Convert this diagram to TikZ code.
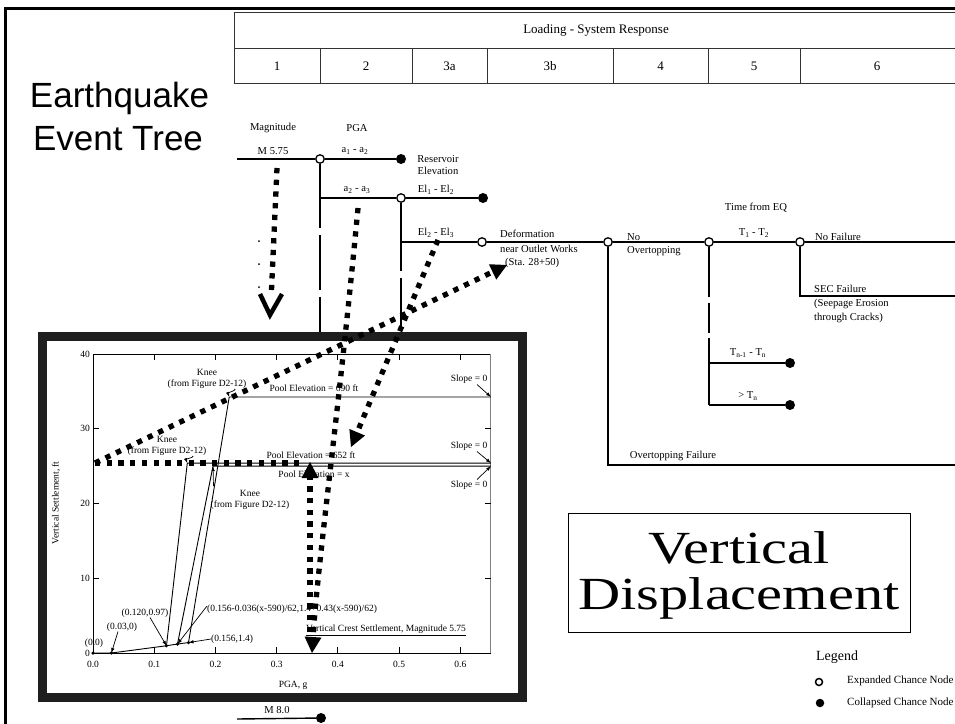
\documentclass[tikz,border=0pt]{standalone}
\usepackage{fontspec}
\setmainfont{Liberation Serif}
\newfontfamily\sansbig{Liberation Sans}
\usetikzlibrary{arrows.meta,calc}
\begin{document}
\begin{tikzpicture}[x=1pt,y=-1pt,
  treeline/.style={line width=1.4pt},
  onode/.style={circle,draw=black,fill=white,line width=1.3pt,inner sep=0pt,minimum size=8.5pt},
  fnode/.style={circle,fill=black,inner sep=0pt,minimum size=10pt},
  lab/.style={font=\fontsize{10.6}{12}\selectfont,inner sep=0pt},
  hlab/.style={font=\fontsize{13}{15}\selectfont,inner sep=0pt},
  plab/.style={font=\fontsize{9.5}{11.5}\selectfont,inner sep=0pt},
  hdr/.style={line width=1pt,draw=black!80},
  dotline/.style={line width=5.3pt,dash pattern=on 5.3pt off 6.4pt},
  bigtri/.style={-{Triangle[length=16pt,width=17pt,line width=0pt]}},
  smallarr/.style={line width=0.7pt,-{Latex[length=5pt,width=3.5pt]}},
  pline/.style={line width=0.9pt},
  pdot/.style={circle,fill=black,inner sep=0pt,minimum size=3.5pt}
]
\useasboundingbox (0,0) rectangle (955,723);
\fill[white] (0,0) rectangle (955,723);
% outer frame
\draw[line width=3pt] (5.5,724) -- (5.5,8.5) -- (958,8.5);

% header table
\draw[hdr] (234,12) rectangle (962,83);
\draw[hdr] (234,48) -- (962,48);
\foreach \xx in {320,412,487,613,708,800} {\draw[hdr] (\xx,48) -- (\xx,83);}
\node[hlab] (hload) at (596,30) {Loading - System Response};
\node[hlab] (h1) at (277,66) {1};
\node[hlab] (h2) at (366,66) {2};
\node[hlab] (h3a) at (449.5,66) {3a};
\node[hlab] (h3b) at (550,66) {3b};
\node[hlab] (h4) at (660.5,66) {4};
\node[hlab] (h5) at (754,66) {5};
\node[hlab] (h6) at (877,66) {6};

% title
\node[font=\sansbig\fontsize{35}{40}\selectfont,inner sep=0pt,anchor=base] (t1) at (119.5,107) {Earthquake};
\node[font=\sansbig\fontsize{35}{40}\selectfont,inner sep=0pt,anchor=base] (t2) at (118,150) {Event Tree};

% tree nodes
\node[onode] (c1) at (320,159) {};
\node[fnode] (d1) at (401,159) {};
\node[onode] (c2) at (401,198) {};
\node[fnode] (d2) at (483,198) {};
\node[onode] (c3) at (482,242) {};
\node[onode] (c4) at (608,242) {};
\node[onode] (c5) at (709,242) {};
\node[onode] (c6) at (800,242) {};
\node[fnode] (d3) at (960,242) {};
\node[fnode] (d4) at (960,296) {};
\node[fnode] (d5) at (790,363) {};
\node[fnode] (d6) at (790,405) {};
\node[fnode] (d7) at (960,465) {};
\node[fnode] (dm8) at (321,718) {};
\coordinate (m575) at (237,159);
\coordinate (m8s) at (237,719);
\coordinate (v1e) at (320,332);
\coordinate (b2) at (320,198);
\coordinate (v2e) at (401,330);
\coordinate (b3) at (401,242);
\coordinate (v5e) at (709,405);
\coordinate (b5a) at (709,363);

\draw[treeline] (m575) -- (c1);
\draw[treeline] (c1) -- (d1);
\draw[treeline,dash pattern=on 64pt off 7pt on 55pt off 7pt on 100pt] (c1.south) -- (v1e);
\draw[treeline] (b2) -- (c2);
\draw[treeline] (c2) -- (d2);
\draw[treeline,dash pattern=on 68pt off 7pt on 100pt] (c2.south) -- (v2e);
\draw[treeline] (b3) -- (c3);
\draw[treeline] (c3) -- (c4);
\draw[treeline] (c4) -- (c5);
\draw[treeline] (c4) |- (d7);
\draw[treeline] (c5) -- (c6);
\draw[treeline,dash pattern=on 50pt off 6pt on 30pt off 5pt on 100pt] (c5.south) -- (v5e);
\draw[treeline] (b5a) -- (d5);
\draw[treeline] (v5e) -- (d6);
\draw[treeline] (c6) -- (d3);
\draw[treeline] (c6) |- (d4);
\draw[treeline] (m8s) -- (dm8);

% tree labels
\node[lab] (lmag) at (273,128) {Magnitude};
\node[lab] (lpga) at (357,128) {PGA};
\node[lab] (lm575) at (273,151) {M 5.75};
\node[lab] (la12) at (355,151) {a\textsubscript{1} - a\textsubscript{2}};
\node[lab,align=center] (lres) at (438,165.5) {Reservoir\\Elevation};
\node[lab] (la23) at (357,190) {a\textsubscript{2} - a\textsubscript{3}};
\node[lab] (lel12) at (436,190) {El\textsubscript{1} - El\textsubscript{2}};
\node[lab] (lel23) at (436,233) {El\textsubscript{2} - El\textsubscript{3}};
\node[lab,anchor=west] (ldef1) at (500,234) {Deformation};
\node[lab,anchor=west] (ldef2) at (500,249) {near Outlet Works};
\node[lab,anchor=west] (ldef3) at (505,263) {(Sta. 28+50)};
\node[lab,anchor=west] (lno) at (627,237) {No};
\node[lab,anchor=west] (lovt) at (627,251) {Overtopping};
\node[lab] (ltime) at (756,208) {Time from EQ};
\node[lab] (lt12) at (754,233) {T\textsubscript{1} - T\textsubscript{2}};
\node[lab,anchor=west] (lnof) at (815,237) {No Failure};
\node[lab,anchor=west] (lsec1) at (814,289) {SEC Failure};
\node[lab,anchor=west] (lsec2) at (814,304) {(Seepage Erosion};
\node[lab,anchor=west] (lsec3) at (814,318) {through Cracks)};
\node[lab] (ltn) at (748,353) {T\textsubscript{n-1} - T\textsubscript{n}};
\node[lab] (ltg) at (748,396) {> T\textsubscript{n}};
\node[lab] (lovf) at (673,456) {Overtopping Failure};
\node[lab] (lm8) at (277,710) {M 8.0};
\fill (259,241) circle (1pt) (259,264) circle (1pt) (259,287) circle (1pt);

% plot frame
\draw[line width=9pt,draw=black!88,fill=white] (42.5,336.5) rectangle (522.5,697.5);

\begin{scope}[shift={(93,653)},x=612.3pt,y=7.475pt]
  \coordinate (p0) at (0,0);
  \coordinate (p1) at (0.03,0);
  \coordinate (p2) at (0.12,0.97);
  \coordinate (p3) at (0.138,1.2);
  \coordinate (p4) at (0.156,1.4);
  \coordinate (k1) at (0.154,25.4);
  \coordinate (k2) at (0.2225,34.25);
  \coordinate (k3) at (0.196,25.0);
  \coordinate (e1) at (0.65,25.4);
  \coordinate (e2) at (0.65,34.25);
  \coordinate (e3) at (0.65,25.0);
  \draw[line width=1pt] (0,40) -- (0,0) -- (0.65,0);
  \draw[line width=0.9pt] (0,40) -- (0.65,40);
  \draw[line width=1pt,draw=black!50] (0.65,0) -- (0.65,40);
  \foreach \t in {0.1,0.2,0.3,0.4,0.5,0.6} {
    \draw[line width=0.9pt] (\t,0) -- (\t,0.8);
    \draw[line width=0.9pt] (\t,40) -- (\t,39.2);
  }
  \foreach \v in {10,20,30} {
    \draw[line width=0.9pt] (0,\v) -- (0.0098,\v);
    \draw[line width=0.9pt] (0.65,\v) -- (0.6402,\v);
  }
  \foreach \t in {0.0,0.1,0.2,0.3,0.4,0.5,0.6} {
    \node[plab,yshift=-11pt] at (\t,0) {\t};
  }
  \foreach \v in {0,10,20,30,40} {
    \node[plab,anchor=east,xshift=-3pt] at (0,\v) {\v};
  }
  \draw[pline] (p0) -- (p1) -- (p2) -- (p3) -- (p4);
  \draw[pline] (p2) -- (k1) -- (e1);
  \draw[pline] (p4) -- (k2) -- (e2);
  \draw[pline] (p3) -- (k3) -- (e3);
  \foreach \pp in {p0,p1,p2,p3,p4} {\node[pdot] at (\pp) {};}
\end{scope}

% plot labels
\node[plab,rotate=90] (ytitle) at (56,503) {Vertical Settlement, ft};
\node[plab] (xtitle) at (293,685) {PGA, g};
\node[plab,align=center] (kn2) at (207,379) {Knee\\(from Figure D2-12)};
\node[plab,align=center] (kn1) at (167,446) {Knee\\(from Figure D2-12)};
\node[plab,align=center] (kn3) at (250,500) {Knee\\(from Figure D2-12)};
\draw[smallarr] (kn2.south east) ++(-12pt,0) to[out=0,in=110] (k2);
\draw[smallarr] (kn1.south east) ++(-14pt,0) to[out=0,in=110] (k1);
\draw[smallarr] (kn3.north west) ++(3pt,4pt) -- (k3);
\node[plab] (pe690) at (314,388) {Pool Elevation = 690 ft};
\node[plab] (pe652) at (311,455) {Pool Elevation = 652 ft};
\node[plab] (pex) at (314,474) {Pool Elevation = x};
\node[plab] (sl1) at (469,379) {Slope = 0};
\node[plab] (sl2) at (469,446) {Slope = 0};
\node[plab] (sl3) at (469,485) {Slope = 0};
\draw[smallarr] (sl1.south) ++(8pt,-1pt) -- (e2);
\draw[smallarr] (sl2.south) ++(8pt,-1pt) -- (e1);
\draw[smallarr] (sl3.north) ++(8pt,1pt) -- (e3);
\node[plab] (l00) at (94,643) {(0.0)};
\node[plab] (l003) at (122,627) {(0.03,0)};
\node[plab] (l012) at (145,613) {(0.120,0.97)};
\node[plab,anchor=west] (lform) at (207,609) {(0.156-0.036(x-590)/62,1.4+0.43(x-590)/62)};
\node[plab,anchor=west] (l0156) at (211,639) {(0.156,1.4)};
\draw[smallarr] (l003.south) ++(-4pt,0) -- (p1);
\draw[smallarr] (l012.south) ++(5pt,0) -- (p2);
\draw[smallarr] (lform.west) ++(0,3pt) -- (p3);
\draw[smallarr] (l0156.west) -- (p4);
\node[plab] (vcs) at (386,630) {\underline{Vertical Crest Settlement, Magnitude 5.75}};

% Vertical displacement box
\draw[line width=0.9pt] (568,513) rectangle (910,632);
\node[font=\fontsize{46}{50}\selectfont,inner sep=0pt] (vd1) at (739,548) {\scalebox{1.27}[1]{Vertical}};
\node[font=\fontsize{46}{50}\selectfont,inner sep=0pt] (vd2) at (739,598) {\scalebox{1.27}[1]{Displacement}};

% legend
\node[font=\fontsize{14}{16}\selectfont,inner sep=0pt] (leg) at (837,657) {Legend};
\node[circle,draw,line width=1.5pt,fill=white,inner sep=0pt,minimum size=7pt] (lego) at (819,682) {};
\node[circle,fill=black,inner sep=0pt,minimum size=8.5pt] (legf) at (820,703) {};
\node[font=\fontsize{11}{12}\selectfont,inner sep=0pt,anchor=west] (lege) at (847,681) {Expanded Chance Node};
\node[font=\fontsize{11}{12}\selectfont,inner sep=0pt,anchor=west] (legc) at (847,703) {Collapsed Chance Node};

% dotted arrows
\coordinate (a1s) at (277,168);
\coordinate (a1e) at (271.5,290);
\coordinate (cv1) at (260,294);
\coordinate (cv2) at (270,315);
\coordinate (cv3) at (282,294);
\draw[dotline] (a1s) -- (a1e);
\draw[line width=4.5pt,miter limit=10] (cv1) -- (cv2) -- (cv3);
\coordinate (a2s) at (358,208);
\coordinate (a2e) at (312,653);
\draw[dotline,bigtri] (a2s) .. controls (338,420) and (318,560) .. (a2e);
\coordinate (a3s) at (438,240);
\coordinate (a3e) at (351,447);
\draw[dotline,bigtri] (a3s) -- (a3e);
\coordinate (bs) at (310,632);
\coordinate (be) at (310,462);
\draw[dotline,bigtri] (bs) -- (be);
\coordinate (hs) at (95,463);
\coordinate (he) at (303,463);
\draw[dotline] (hs) -- (he);
\coordinate (de) at (507,265);
\draw[dotline,bigtri] (hs) -- (de);
\end{tikzpicture}
\end{document}
